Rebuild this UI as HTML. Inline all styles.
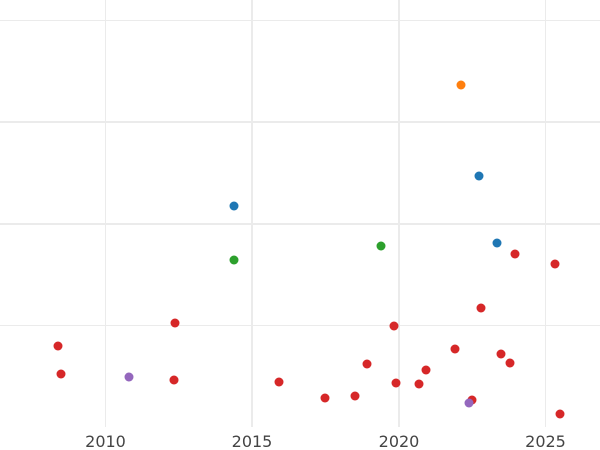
<!DOCTYPE html>
<html><head><style>body{margin:0;background:#fff}svg{display:block}</style></head><body>
<svg width="600" height="450" xmlns="http://www.w3.org/2000/svg">
<g stroke="#ebebeb">
<line x1="0" y1="20.5" x2="600" y2="20.5" stroke-width="1"/>
<line x1="0" y1="122" x2="600" y2="122" stroke-width="2"/>
<line x1="0" y1="224" x2="600" y2="224" stroke-width="2"/>
<line x1="0" y1="325.5" x2="600" y2="325.5" stroke-width="1"/>
<line x1="105.5" y1="0" x2="105.5" y2="427" stroke-width="1"/>
<line x1="252" y1="0" x2="252" y2="427" stroke-width="2"/>
<line x1="399" y1="0" x2="399" y2="427" stroke-width="2"/>
<line x1="545.5" y1="0" x2="545.5" y2="427" stroke-width="1"/>
</g>
<g font-family="DejaVu Sans, Liberation Sans, sans-serif" font-size="16" fill="#444" text-anchor="middle">
<text x="105.5" y="447">2010</text><text x="252" y="447">2015</text><text x="399" y="447">2020</text><text x="545.5" y="447">2025</text>
</g>
<g fill="#d62728">
<circle cx="58" cy="346" r="4.5"/><circle cx="61" cy="374" r="4.5"/><circle cx="175" cy="323" r="4.5"/><circle cx="174" cy="380" r="4.5"/><circle cx="279" cy="382" r="4.5"/><circle cx="325" cy="398" r="4.5"/><circle cx="355" cy="396" r="4.5"/><circle cx="367" cy="364" r="4.5"/><circle cx="394" cy="326" r="4.5"/><circle cx="396" cy="383" r="4.5"/><circle cx="419" cy="384" r="4.5"/><circle cx="426" cy="370" r="4.5"/><circle cx="455" cy="349" r="4.5"/><circle cx="481" cy="308" r="4.5"/><circle cx="501" cy="354" r="4.5"/><circle cx="510" cy="363" r="4.5"/><circle cx="515" cy="254" r="4.5"/><circle cx="555" cy="264" r="4.5"/><circle cx="560" cy="414" r="4.5"/><circle cx="472" cy="400" r="4.5"/>
</g>
<g fill="#9467bd"><circle cx="129" cy="377" r="4.5"/><circle cx="469" cy="403" r="4.5"/></g>
<g fill="#1f77b4"><circle cx="234" cy="206" r="4.5"/><circle cx="479" cy="176" r="4.5"/><circle cx="497" cy="243" r="4.5"/></g>
<g fill="#2ca02c"><circle cx="234" cy="260" r="4.5"/><circle cx="381" cy="246" r="4.5"/></g>
<circle cx="461" cy="85" r="4.5" fill="#ff7f0e"/>
</svg>
</body></html>
